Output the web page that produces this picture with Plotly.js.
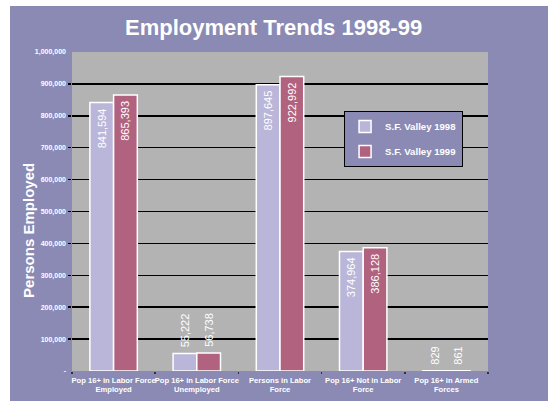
<!DOCTYPE html>
<html>
<head>
<meta charset="utf-8">
<script src="https://cdn.plot.ly/plotly-3.0.1.min.js"></script>
<style>
html,body{margin:0;padding:0;background:#ffffff;}
#chart{position:absolute;left:10px;top:6px;width:538px;height:395px;}
</style>
</head>
<body>
<div id="chart"></div>
<script>
const categories = [
  "Pop 16+ in Labor Force<br>Employed",
  "Pop 16+ in Labor Force<br>Unemployed",
  "Persons in Labor<br>Force",
  "Pop 16+ Not in Labor<br>Force",
  "Pop 16+ in Armed<br>Forces"
];
const valley1998 = [841594, 55222, 897645, 374964, 829];
const valley1999 = [865393, 56738, 922992, 386128, 861];
const yTickVals = [0,100000,200000,300000,400000,500000,600000,700000,800000,900000,1000000];
const yTickText = ["-","100,000","200,000","300,000","400,000","500,000","600,000","700,000","800,000","900,000","1,000,000"];
const gridVals = [100000,200000,300000,400000,500000,600000,700000,800000,900000];

const fmt = v => v.toLocaleString('en-US');
const pos = v => v > 200000 ? 'inside' : 'outside';
const label = v => v > 200000 ? fmt(v) + '\u00a0' : '\u00a0' + fmt(v);

const bg = '#8a8ab4';
const txtFont = {family:'Arial, Liberation Sans, sans-serif', size:11, color:'#ffffff'};

const traces = [
  {
    type:'bar', name:'S.F. Valley 1998', x:categories, y:valley1998,
    text:valley1998.map(label), textposition:valley1998.map(pos), textangle:-90,
    insidetextanchor:'end', insidetextfont:txtFont, outsidetextfont:txtFont,
    constraintext:'none', cliponaxis:false, legendgroup:'a',
    marker:{color:'#bab6d9', line:{color:'#ffffff', width:1.5}}
  },
  {
    type:'bar', name:'S.F. Valley 1999', x:categories, y:valley1999,
    text:valley1999.map(label), textposition:valley1999.map(pos), textangle:-90,
    insidetextanchor:'end', insidetextfont:txtFont, outsidetextfont:txtFont,
    constraintext:'none', cliponaxis:false, legendgroup:'b',
    marker:{color:'#b1627f', line:{color:'#ffffff', width:1.5}}
  },
  {
    type:'scatter', x:[categories[0]], y:[0], yaxis:'y2', mode:'markers',
    marker:{opacity:0}, showlegend:false, hoverinfo:'skip'
  }
];

const layout = {
  width:538, height:395,
  paper_bgcolor:bg, plot_bgcolor:'#b3b3b3',
  margin:{l:62, r:60, t:46, b:30, pad:0},
  font:{family:'Arial, Liberation Sans, sans-serif', color:'#ffffff'},
  title:{text:'<b>Employment Trends 1998-99</b>', font:{size:22, color:'#ffffff'}, x:0.49, xanchor:'center', y:0.945, yanchor:'middle'},
  bargap:0.43, bargroupgap:0,
  barmode:'group',
  showlegend:true,
  legend:{x:0.654, y:0.815, xanchor:'left', yanchor:'top', bgcolor:bg, bordercolor:'#000000', borderwidth:1,
    font:{size:9.6, color:'#ffffff', family:'Arial, Liberation Sans, sans-serif', weight:'bold'},
    traceorder:'grouped', tracegroupgap:6},
  xaxis:{type:'category', tickson:'boundaries', ticks:'outside', ticklen:2, tickcolor:'#333333', tickwidth:1.5,
    tickangle:0, showgrid:false, zeroline:false, showline:false, ticklabelstandoff:3,
    tickfont:{size:7.6, color:'#ffffff', weight:'bold'}},
  yaxis:{range:[0,1000000], tickvals:yTickVals, ticktext:yTickText, ticks:'', showgrid:false, zeroline:false,
    tickfont:{size:7, color:'#ffffff', weight:'bold'}, ticklabelstandoff:5},
  yaxis2:{range:[0,1000000], overlaying:'y', side:'left', tickvals:gridVals, showticklabels:false,
    ticks:'outside', ticklen:3, tickcolor:'#000000', tickwidth:1.5,
    showgrid:true, gridcolor:'#000000', gridwidth:1.5, zeroline:false},
  annotations:[{
    text:'<b>Persons Employed</b>', xref:'paper', yref:'paper', x:-0.106, y:0.442,
    textangle:-90, showarrow:false, font:{size:15, color:'#ffffff'}, xanchor:'center', yanchor:'middle'
  }]
};

Plotly.newPlot('chart', traces, layout, {displayModeBar:false, staticPlot:true});
</script>
</body>
</html>
